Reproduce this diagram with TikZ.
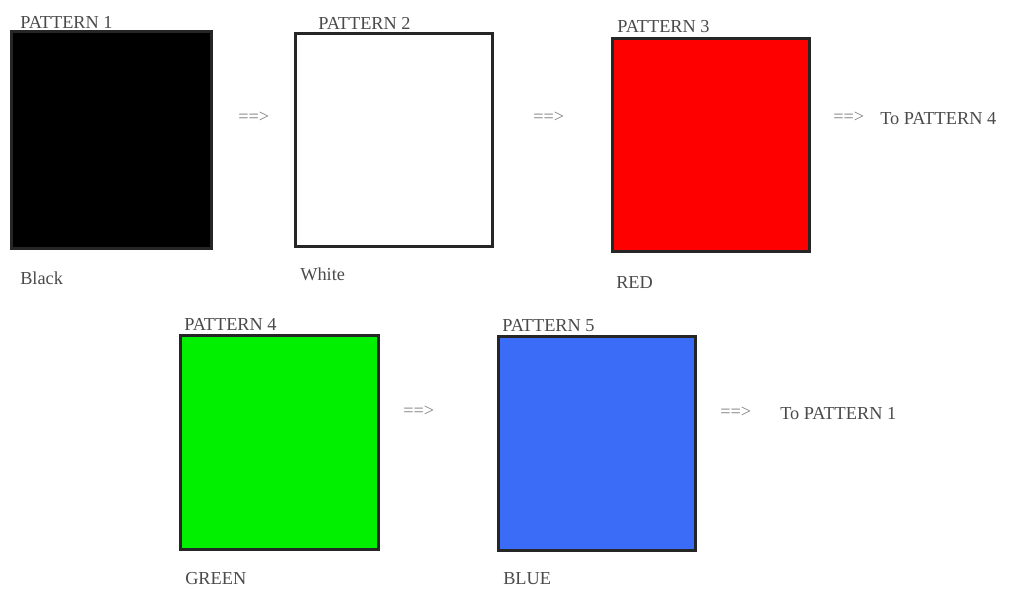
\documentclass[tikz,border=0pt]{standalone}
\usepackage{fontspec}
\setmainfont{Liberation Serif}
\usepackage{tikz}
\usetikzlibrary{positioning}
\definecolor{labelgray}{HTML}{4A4A4A}
\definecolor{patblue}{HTML}{3B6CF8}
\definecolor{patgreen}{HTML}{00F000}

\begin{document}
\begin{tikzpicture}[x=0.025cm, y=-0.025cm,
  pattern/.style={rectangle, draw=black!85, line width=2pt, anchor=north west, inner sep=0pt},
  caption/.style={anchor=base west, inner sep=0pt, text=labelgray, font=\fontsize{13}{15}\selectfont},
  nextsign/.style={anchor=west, inner sep=0pt, text=black!50, font=\fontsize{13}{15}\selectfont}
]
  \useasboundingbox (0,0) rectangle (1010,589);

  % first row
  \node[pattern, fill=black, minimum width=5cm, minimum height=5.43cm] (pat1) at (10,30) {};
  \node[pattern, fill=white, minimum width=4.93cm, minimum height=5.33cm] (pat2) at (294,32) {};
  \node[pattern, fill=red, minimum width=4.93cm, minimum height=5.33cm] (pat3) at (611,37) {};

  \node[caption] (title1) at (20,29) {PATTERN 1};
  \node[caption] (title2) at (318,30) {PATTERN 2};
  \node[caption] (title3) at (617,33) {PATTERN 3};

  \node[caption] (name1) at (20,284) {Black};
  \node[caption] (name2) at (300,281) {White};
  \node[caption] (name3) at (616,288) {RED};

  \node[nextsign] (next12) at (238,117) {==>};
  \node[nextsign] (next23) at (533,117) {==>};
  \node[nextsign] (next34) at (833,117) {==>};
  \node[caption] (goto4) at (880,125) {To PATTERN 4};

  % second row
  \node[pattern, fill=patgreen, minimum width=4.95cm, minimum height=5.35cm] (pat4) at (179,334) {};
  \node[pattern, fill=patblue, minimum width=4.93cm, minimum height=5.35cm] (pat5) at (497,335) {};

  \node[caption] (title4) at (184,330) {PATTERN 4};
  \node[caption] (title5) at (502,331) {PATTERN 5};

  \node[caption] (name4) at (185,584) {GREEN};
  \node[caption] (name5) at (503,584) {BLUE};

  \node[nextsign] (next45) at (403,411) {==>};
  \node[nextsign] (next51) at (720,412) {==>};
  \node[caption] (goto1) at (780,419) {To PATTERN 1};
\end{tikzpicture}
\end{document}
